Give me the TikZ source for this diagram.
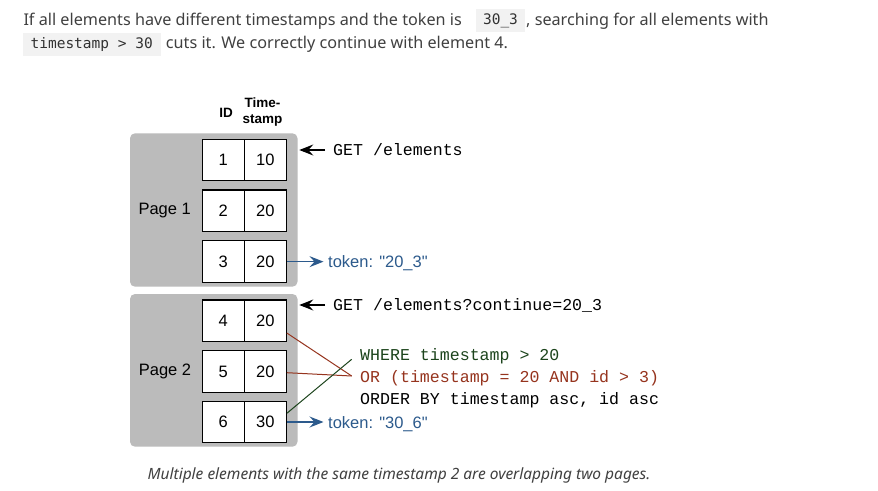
\documentclass[tikz,border=0pt]{standalone}
\usepackage{fontspec}
\setmainfont{Liberation Sans}
\newfontfamily\bodyfont{Noto Sans}
\newfontfamily\codefont{DejaVu Sans Mono}
\newfontfamily\courfont{Liberation Mono}
\newfontfamily\tokfont[Ligatures=TeXOff]{Liberation Sans}
\usetikzlibrary{arrows.meta,calc}
\definecolor{pagegray}{RGB}{187,187,187}
\definecolor{tokblue}{RGB}{44,90,140}
\definecolor{orred}{RGB}{150,52,30}
\definecolor{wgreen}{RGB}{28,68,28}
\definecolor{bodygray}{RGB}{64,64,64}
\definecolor{codebg}{RGB}{242,242,242}
\definecolor{codetext}{RGB}{50,50,50}
\tikzset{
  body/.style={inner sep=0pt, text=bodygray, font=\bodyfont\fontsize{16.2}{18}\selectfont},
  codebox/.style={fill=codebg, inner sep=0pt, text=codetext, font=\codefont\fontsize{14.5}{16}\selectfont},
  pagebox/.style={fill=pagegray, rounded corners=5pt, minimum width=167.5pt, inner sep=0pt},
  pagelabel/.style={inner sep=0pt, font=\fontsize{16.5}{18}\selectfont},
  cell/.style={draw=black, fill=white, line width=1.1pt, minimum width=42pt, minimum height=41.7pt, inner sep=0pt, font=\fontsize{16.5}{18}\selectfont},
  header/.style={inner sep=0pt, align=center, font=\bfseries\fontsize{13.5}{15.5}\selectfont},
  mono/.style={inner sep=0pt, anchor=base west, font=\courfont\fontsize{16.6}{18}\selectfont},
  tok/.style={inner sep=0pt, anchor=base west, text=tokblue, font=\tokfont\fontsize{16.5}{18}\selectfont},
  blackarrow/.style={draw=black, line width=1.2pt, -{Stealth[length=14pt,width=11pt,inset=5pt]}},
  bluearrow/.style={draw=tokblue, line width=1.2pt, -{Stealth[length=14pt,width=11pt,inset=5pt]}},
  redline/.style={draw=orred, line width=1pt},
  greenline/.style={draw=wgreen, line width=1pt},
  caption/.style={inner sep=0pt, text=bodygray, font=\bodyfont\itshape\fontsize{15.5}{18}\selectfont}
}
\begin{document}
\begin{tikzpicture}[x=1pt,y=-1pt]
\useasboundingbox[fill=white] (0,0) rectangle (878,490);
% top text
\node[body, anchor=base west] (l1a) at (23.3,25) {If all elements have different timestamps and the token is};
\node[codebox, minimum width=49pt, minimum height=23pt] (c1) at (500.5,20.8) {30\_3};
\node[body, anchor=base west] (l1b) at (526,25) {, searching for all elements with};
\node[codebox, minimum width=138pt, minimum height=23pt] (c2) at (91.7,44.2) {timestamp > 30};
\node[body, anchor=base west] (l2b) at (165.7,48.3) {cuts it. We correctly continue with element 4.};
% headers
\node[header] (hid) at (226,113) {ID};
\node[header] (hts) at (262.5,112) {Time-\\stamp};
% pages
\node[pagebox, minimum height=153.4pt] (p1) at (213.75,210) {};
\node[pagebox, minimum height=152.7pt] (p2) at (213.75,370.35) {};
\node[pagelabel] (pl1) at (164.7,211) {Page 1};
\node[pagelabel] (pl2) at (165,371.5) {Page 2};
% cells
\node[cell] (id1) at (223.3,160) {1};
\node[cell] (ts1) at (265.3,160) {10};
\node[cell] (id2) at (223.3,210.85) {2};
\node[cell] (ts2) at (265.3,210.85) {20};
\node[cell] (id3) at (223.3,261.65) {3};
\node[cell] (ts3) at (265.3,261.65) {20};
\node[cell] (id4) at (223.3,320.85) {4};
\node[cell] (ts4) at (265.3,320.85) {20};
\node[cell] (id5) at (223.3,371.5) {5};
\node[cell] (ts5) at (265.3,371.5) {20};
\node[cell] (id6) at (223.3,422) {6};
\node[cell] (ts6) at (265.3,422) {30};
% requests
\node[mono] (get1) at (333,155) {GET /elements};
\coordinate (tip1) at (299.3,150);
\draw[blackarrow, shorten <=8pt] (get1.west |- tip1) -- (tip1);
\node[mono] (get2) at (333,310) {GET /elements?continue=20\_3};
\coordinate (tip2) at (299.3,305);
\draw[blackarrow, shorten <=8pt] (get2.west |- tip2) -- (tip2);
% tokens
\node[tok] (tok1) at (328,267.6) {token: "20\_3"};
\draw[bluearrow, shorten >=4.5pt] (ts3.east) -- (ts3.east -| tok1.west);
\node[tok] (tok2) at (328,428) {token: "30\_6"};
\draw[bluearrow, shorten >=4.5pt] (ts6.east) -- (ts6.east -| tok2.west);
% query
\node[mono, text=wgreen] (where) at (360,360) {WHERE timestamp > 20};
\node[mono, text=orred] (orq) at (360,382) {OR (timestamp = 20 AND id > 3)};
\node[mono] (order) at (360,404) {ORDER BY timestamp asc, id asc};
\coordinate (ormeet) at (351.7,376);
\coordinate (wmeet) at (351.7,359.3);
\draw[redline] ($(ts4.east)+(0,12.2)$) -- (ormeet);
\draw[redline] ($(ts5.east)+(0,1.2)$) -- (ormeet);
\draw[greenline] ($(ts6.east)+(0,-8.7)$) -- (wmeet);
% caption
\node[caption] (cap) at (399,475) {Multiple elements with the same timestamp 2 are overlapping two pages.};
\end{tikzpicture}
\end{document}
